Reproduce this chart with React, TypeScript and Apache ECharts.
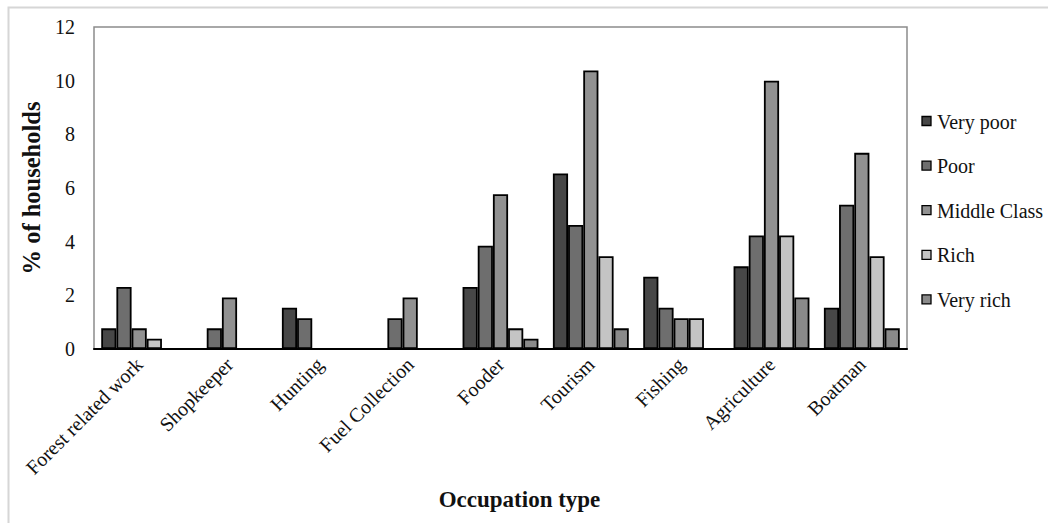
import React, { useEffect, useRef } from "react";
import * as echarts from "echarts";

const categories = [
  "Forest related work",
  "Shopkeeper",
  "Hunting",
  "Fuel Collection",
  "Fooder",
  "Tourism",
  "Fishing",
  "Agriculture",
  "Boatman",
];

const seriesNames = ["Very poor", "Poor", "Middle Class", "Rich", "Very rich"];

const veryPoor = [0.77, 0, 1.54, 0, 2.31, 6.54, 2.69, 3.08, 1.54];
const poor = [2.31, 0.77, 1.15, 1.15, 3.85, 4.62, 1.54, 4.23, 5.38];
const middleClass = [0.77, 1.92, 0, 1.92, 5.77, 10.38, 1.15, 10.0, 7.31];
const rich = [0.38, 0, 0, 0, 0.77, 3.46, 1.15, 4.23, 3.46];
const veryRich = [0, 0, 0, 0, 0.38, 0.77, 0, 1.92, 0.77];

const yTicks = [0, 2, 4, 6, 8, 10, 12];

const colors = ["#474747", "#6e6e6e", "#919191", "#c4c4c4", "#8a8a8a"];

const FONT = "Liberation Serif";

export default function App() {
  const ref = useRef<HTMLDivElement>(null);

  useEffect(() => {
    document.body.style.margin = "0";
    if (!ref.current) return;
    const chart = echarts.init(ref.current, null, { renderer: "svg" });
    const allData = [veryPoor, poor, middleClass, rich, veryRich];

    const legendTop = 121.5;
    const legendStep = 44.6;
    const legendRects = seriesNames.map((name, i) => ({
      type: "rect",
      shape: { x: 922, y: legendTop + i * legendStep - 5, width: 9, height: 9 },
      style: { fill: colors[i], stroke: "#000", lineWidth: 1.3 },
      silent: true,
    }));

    chart.setOption({
      animation: false,
      backgroundColor: "#ffffff",
      grid: [
        {
          left: 94,
          right: 141,
          top: 27,
          bottom: 174,
          show: true,
          borderColor: "#8c8c8c",
          borderWidth: 1.5,
          backgroundColor: "transparent",
        },
        {
          left: 930,
          width: 1,
          top: legendTop - legendStep / 2,
          height: legendStep * seriesNames.length,
          show: false,
        },
      ],
      legend: { show: false, data: seriesNames },
      xAxis: [
        {
          type: "category",
          gridIndex: 0,
          data: categories,
          name: "Occupation type",
          nameLocation: "middle",
          nameGap: 139,
          nameTextStyle: {
            fontFamily: FONT,
            fontSize: 23,
            fontWeight: "bold",
            color: "#111",
            padding: [0, 0, 0, 38],
          },
          axisLine: { show: true, lineStyle: { color: "#000", width: 2 } },
          axisTick: { show: false },
          axisLabel: {
            rotate: 45,
            interval: 0,
            margin: 12,
            fontFamily: FONT,
            fontSize: 20,
            color: "#111",
          },
        },
        {
          type: "value",
          gridIndex: 1,
          show: false,
        },
      ],
      yAxis: [
        {
          type: "value",
          gridIndex: 0,
          min: yTicks[0],
          max: yTicks[yTicks.length - 1],
          interval: 2,
          name: "% of households",
          nameLocation: "middle",
          nameRotate: 90,
          nameGap: 44,
          nameTextStyle: {
            fontFamily: FONT,
            fontSize: 24.5,
            fontWeight: "bold",
            color: "#111",
          },
          axisLine: { show: false },
          axisTick: { show: false },
          splitLine: { show: false },
          axisLabel: {
            margin: 19,
            fontFamily: FONT,
            fontSize: 20,
            color: "#111",
          },
        },
        {
          type: "category",
          gridIndex: 1,
          data: seriesNames,
          inverse: true,
          position: "right",
          axisLine: { show: false },
          axisTick: { show: false },
          splitLine: { show: false },
          axisLabel: {
            margin: 6,
            interval: 0,
            fontFamily: FONT,
            fontSize: 20,
            color: "#111",
          },
        },
      ],
      series: seriesNames.map((name, i) => ({
        name,
        type: "bar",
        xAxisIndex: 0,
        yAxisIndex: 0,
        data: allData[i],
        barGap: "0%",
        barCategoryGap: "16%",
        itemStyle: {
          color: colors[i],
          borderColor: "#000",
          borderWidth: 1.8,
        },
      })),
      graphic: [
        {
          type: "polyline",
          shape: { points: [[8.5, 530], [8.5, 7.5], [1060, 7.5]] },
          style: { stroke: "#d6d6d6", lineWidth: 2, fill: "none" },
          silent: true,
        },
        ...legendRects,
      ],
    });
    return () => chart.dispose();
  }, []);

  return <div ref={ref} style={{ width: 1048, height: 523 }} />;
}
